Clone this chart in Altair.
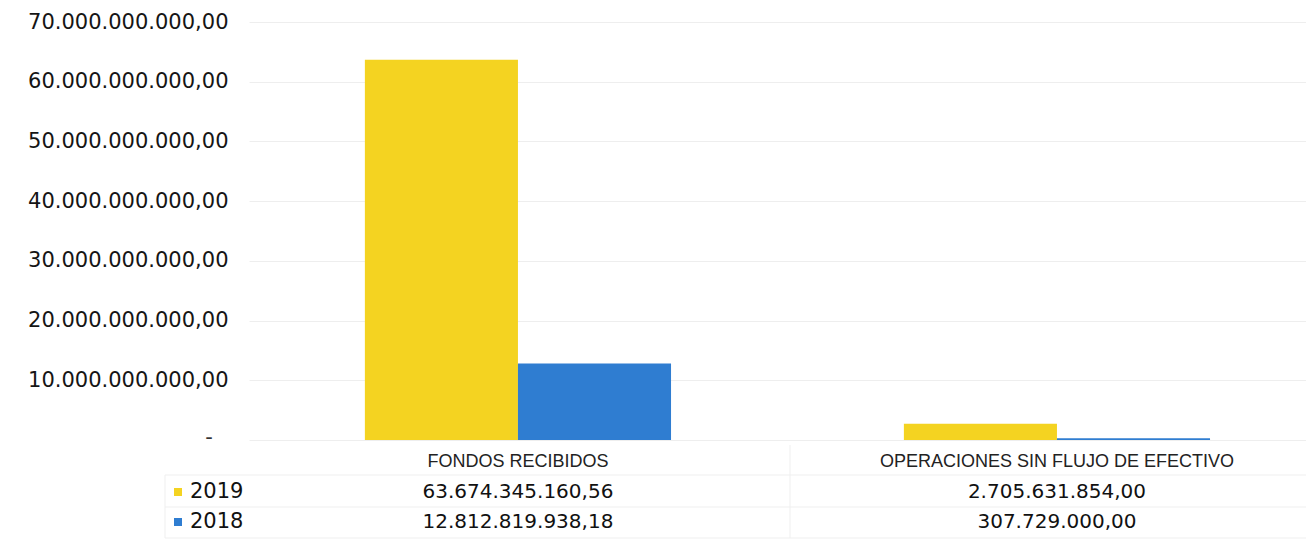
import altair as alt
import pandas as pd

CATEGORIES = ["FONDOS RECIBIDOS", "OPERACIONES SIN FLUJO DE EFECTIVO"]
YEARS = ["2019", "2018"]
VALUES_2019 = [63674345160.56, 2705631854.00]
VALUES_2018 = [12812819938.18, 307729000.00]
Y_TICKS = [0, 10e9, 20e9, 30e9, 40e9, 50e9, 60e9, 70e9]
COLORS = ["#F4D321", "#2F7DD1"]

rows = []
for c, v in zip(CATEGORIES, VALUES_2019):
    rows.append({"cat": c, "year": "2019", "value": v})
for c, v in zip(CATEGORIES, VALUES_2018):
    rows.append({"cat": c, "year": "2018", "value": v})
df = pd.DataFrame(rows)
cats_df = pd.DataFrame({"cat": CATEGORIES})
years_df = pd.DataFrame({"year": YEARS})

W, H = 1057, 418
FONT_NUM = "DejaVu Sans"
FONT_HEAD = "Liberation Sans"
LINE_COLOR = "#efefef"

x_scale = alt.Scale(domain=CATEGORIES, paddingInner=0.432, paddingOuter=0.1965, align=0.547)
x_enc = alt.X("cat:N", scale=x_scale, axis=None, sort=CATEGORIES)
color_scale = alt.Scale(domain=YEARS, range=COLORS)

bars = alt.Chart(df).mark_bar().encode(
    x=x_enc,
    xOffset=alt.XOffset("year:N", scale=alt.Scale(domain=YEARS, padding=0), sort=YEARS),
    y=alt.Y("value:Q", scale=alt.Scale(domain=[0, 70e9], nice=False),
            axis=alt.Axis(values=Y_TICKS, format=",.2f", title=None,
                          labelExpr="datum.value == 0 ? '' : datum.label",
                          labelFont=FONT_NUM, labelFontSize=21, labelColor="#151515",
                          labelPadding=21, labelLimit=0, ticks=False, domain=False,
                          grid=True, gridColor="#eeeeee", gridWidth=1)),
    color=alt.Color("year:N", scale=color_scale, legend=None),
)

zero_dash = alt.Chart(cats_df.head(1)).mark_text(
    text="-", font=FONT_NUM, fontSize=21, color="#333", align="center", baseline="middle"
).encode(x=alt.value(-40), y=alt.value(H - 2))

hlines = []
for yy, x0 in [(H + 35, -84), (H + 67, -84), (H + 98, -84)]:
    hlines.append(alt.Chart(cats_df.head(1)).mark_rule(color=LINE_COLOR, strokeWidth=1).encode(
        x=alt.value(x0), x2=alt.value(W), y=alt.value(yy)))
vlines = []
for xx, y0 in [(-84, H + 35), (541, H + 5)]:
    vlines.append(alt.Chart(cats_df.head(1)).mark_rule(color=LINE_COLOR, strokeWidth=1).encode(
        x=alt.value(xx), y=alt.value(y0), y2=alt.value(H + 98)))

header = alt.Chart(cats_df).mark_text(
    font=FONT_HEAD, fontSize=18, color="#222", baseline="middle", align="center"
).encode(x=x_enc, y=alt.value(H + 22), text="cat:N")

value_layers = []
label_layers = []
for i, yr in enumerate(YEARS):
    ypos = H + 52 + i * 30
    value_layers.append(
        alt.Chart(df).transform_filter(alt.datum.year == yr).mark_text(
            font=FONT_NUM, fontSize=20, color="#111", baseline="middle", align="center"
        ).encode(x=x_enc, y=alt.value(ypos), text=alt.Text("value:Q", format=",.2f"))
    )
    label_layers.append(
        alt.Chart(years_df).transform_filter(alt.datum.year == yr).mark_text(
            font=FONT_NUM, fontSize=21, color="#111", baseline="middle", align="left"
        ).encode(x=alt.value(-59), y=alt.value(ypos), text="year:N")
    )
    label_layers.append(
        alt.Chart(years_df).transform_filter(alt.datum.year == yr).mark_square(
            size=64, opacity=1
        ).encode(x=alt.value(-71), y=alt.value(ypos),
                 color=alt.Color("year:N", scale=color_scale, legend=None))
    )

chart = alt.layer(
    *hlines, *vlines, bars, zero_dash, header, *value_layers, *label_layers
).properties(
    width=W, height=H,
    padding={"left": 241, "top": 14, "right": 0, "bottom": 102},
    autosize=alt.AutoSizeParams(type="none"),
    background="white",
    view=alt.ViewBackground(stroke="transparent", strokeWidth=0),
).configure_view(stroke="transparent", strokeWidth=0).configure_axis(
    domain=False, ticks=False, gridColor="#eeeeee"
).configure(
    locale={"number": {"decimal": ",", "thousands": ".", "grouping": [3], "currency": ["", ""]}}
)

chart.save("out.html", embed_options={"renderer": "svg", "actions": False})
